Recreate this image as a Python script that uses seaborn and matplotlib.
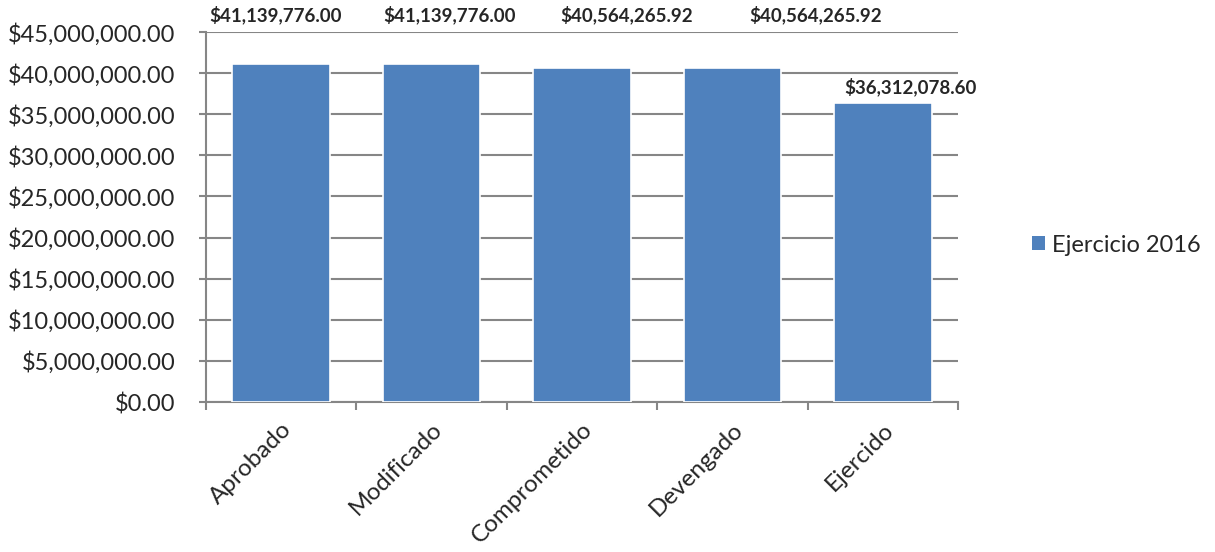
import matplotlib
matplotlib.use("Agg")
import matplotlib.pyplot as plt
import matplotlib.ticker as mticker
from matplotlib.patches import Patch
import pandas as pd
import seaborn as sns

# valores del ejercicio 2016
categorias = ["Aprobado", "Modificado", "Comprometido", "Devengado", "Ejercido"]
montos = [41139776.00, 41139776.00, 40564265.92, 40564265.92, 36312078.60]
serie = "Ejercicio 2016"

df = pd.DataFrame({"etapa": categorias, "monto": montos})

sns.set_theme(style="white")
plt.rcParams["font.family"] = ["Lato", "DejaVu Sans"]

azul = "#4F81BD"
gris = "#868686"

fig = plt.figure(figsize=(12.15, 5.52), dpi=100)
ax = fig.add_axes([0.1695, 0.2717, 0.619, 0.6703])

sns.barplot(data=df, x="etapa", y="monto", color=azul, width=0.65,
            edgecolor="white", linewidth=1.2, saturation=1, ax=ax, zorder=3)

ax.set_ylim(0, 45000000)
ax.set_xlim(-0.5, len(categorias) - 0.5)
ax.yaxis.set_major_locator(mticker.MultipleLocator(5000000))
ax.yaxis.set_major_formatter(mticker.FuncFormatter(lambda v, p: "${:,.2f}".format(v)))
ax.grid(axis="y", color=gris, linewidth=1.5, zorder=0)
ax.set_axisbelow(True)

for lado in ["top", "right"]:
    ax.spines[lado].set_visible(False)
for lado in ["left", "bottom"]:
    ax.spines[lado].set_color(gris)
    ax.spines[lado].set_linewidth(1.5)

ax.tick_params(axis="y", length=5, width=1.5, color=gris, labelsize=17, pad=17, left=True)
ax.tick_params(axis="x", which="major", length=0, labelsize=17.5, pad=12)
ax.set_xticks([i - 0.5 for i in range(len(categorias) + 1)], minor=True)
ax.tick_params(axis="x", which="minor", length=6, width=1.5, color=gris, bottom=True)
ax.set_xticks(range(len(categorias)))
ax.set_xticklabels(categorias, rotation=45, ha="right", rotation_mode="anchor")
ax.set_xlabel("")
ax.set_ylabel("")

# etiquetas de datos: las barras altas llevan la etiqueta arriba del área,
# repartidas como en el original (corrimiento horizontal en puntos)
corrimiento = [-4, 13, 32, 60, 20]
for i, v in enumerate(montos):
    txt = "${:,.2f}".format(v)
    if v > 40000000:
        ax.annotate(txt, (i, 1.045), xycoords=ax.get_xaxis_transform(),
                    xytext=(corrimiento[i], 0), textcoords="offset points",
                    ha="center", va="center", fontsize=13.5, fontweight="bold",
                    annotation_clip=False)
    else:
        ax.annotate(txt, (i, v), xytext=(corrimiento[i], 12), textcoords="offset points",
                    ha="center", va="center", fontsize=13.5, fontweight="bold")

fig.legend(handles=[Patch(facecolor=azul, edgecolor="none", label=serie)],
           loc="center left", bbox_to_anchor=(0.849, 0.556), frameon=False,
           borderpad=0, borderaxespad=0,
           fontsize=17, handlelength=0.55, handleheight=0.55, handletextpad=0.3)

fig.savefig("out.png", dpi=100)
